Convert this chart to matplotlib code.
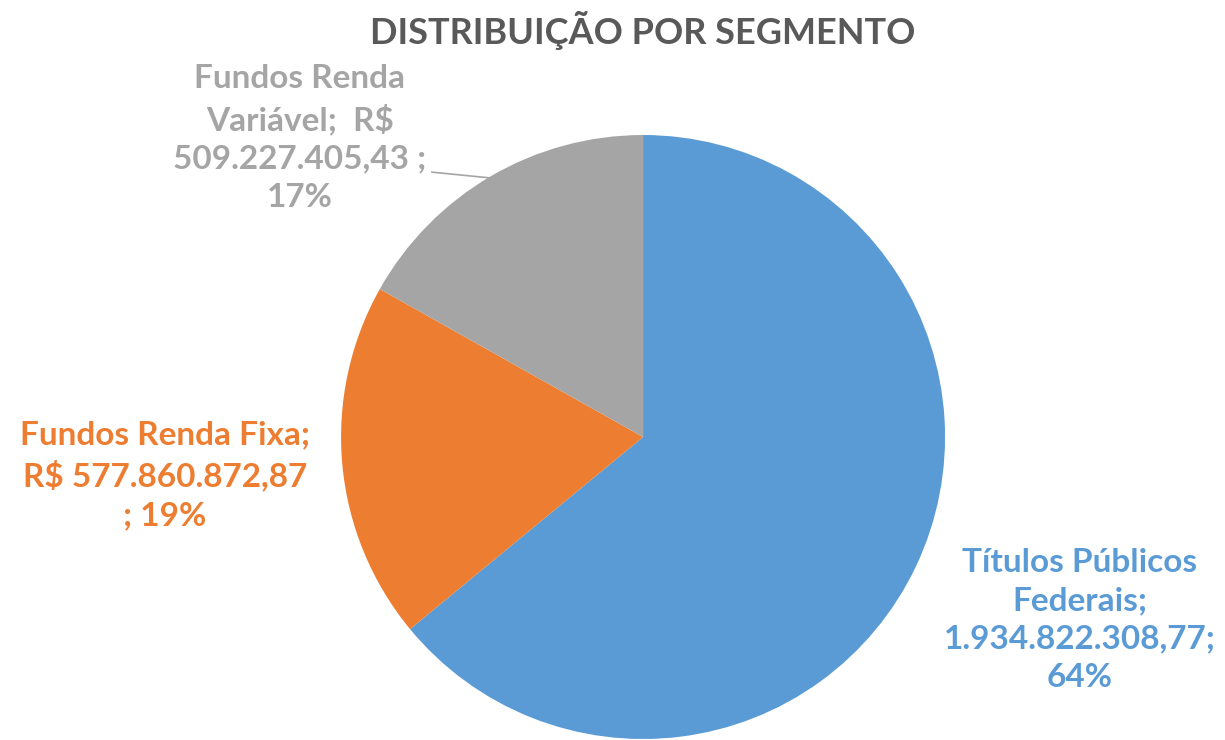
import matplotlib.pyplot as plt
import numpy as np

segments = ["Títulos Públicos\nFederais;", "Fundos Renda Fixa;", "Fundos Renda\nVariável;  R$"]
values = [1934822308.77, 577860872.87, 509227405.43]
colors = ["#5B9BD5", "#ED7D31", "#A5A5A5"]


def brl(v):
    s = f"{v:,.2f}"
    return s.replace(",", "X").replace(".", ",").replace("X", ".")


total = sum(values)
pcts = [round(v / total * 100) for v in values]

fig = plt.figure(figsize=(12.25, 7.4), dpi=100)
fig.patch.set_facecolor("white")

# pie axes: centre (643, 437) px, radius ~302 px
ax = fig.add_axes([0.2784, 0.00135, 0.4931, 0.8162])
wedges, _ = ax.pie(values, colors=colors, startangle=90, counterclock=False,
                   radius=1.0, center=(0, 0), frame=True,
                   wedgeprops=dict(linewidth=0))
ax.set_xlim(-1, 1)
ax.set_ylim(-1, 1)
ax.set_aspect("equal")
ax.axis("off")

font = dict(family="Lato", fontweight="bold", fontsize=24, linespacing=1.4)

# Titulos Publicos Federais
fig.text(1080 / 1225, 1 - 620 / 740,
         f"{segments[0]}\n{brl(values[0])};\n{pcts[0]}%",
         color=colors[0], ha="center", va="center", **font)

# Fundos Renda Fixa
fig.text(165 / 1225, 1 - 475 / 740,
         f"{segments[1]}\nR$ {brl(values[1])}\n; {pcts[1]}%",
         color=colors[1], ha="center", va="center", **font)

# Fundos Renda Variavel
fig.text(300 / 1225, 1 - 138 / 740,
         f"{segments[2]}\n{brl(values[2])} ;\n{pcts[2]}%",
         color=colors[2], ha="center", va="center", **font)

# leader line for the grey slice
ax.plot([-0.699, -0.507], [0.877, 0.858], color="#A5A5A5", lw=1.2,
        clip_on=False)

fig.text(643 / 1225, 1 - 30 / 740, "DISTRIBUIÇÃO POR SEGMENTO",
         ha="center", va="center", color="#595959",
         family="Lato", fontweight="bold", fontsize=26)

fig.savefig("out.png", dpi=100)
